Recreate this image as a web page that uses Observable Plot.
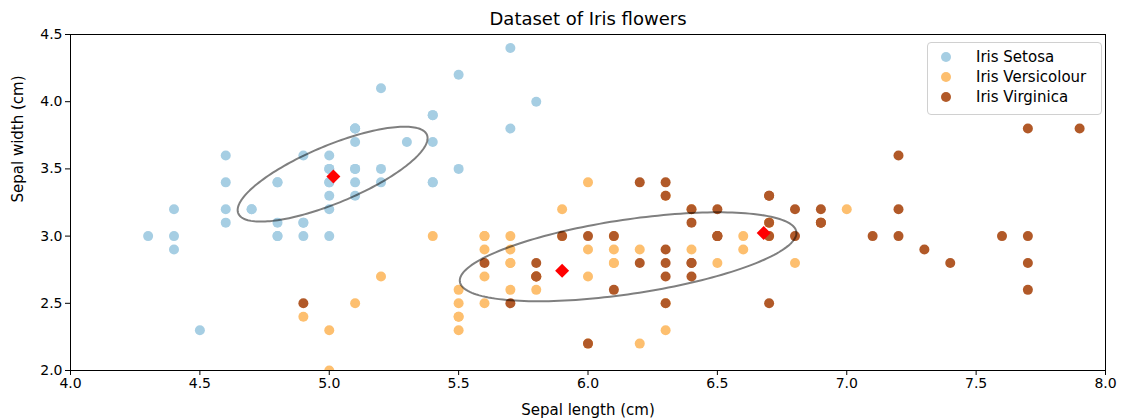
<!DOCTYPE html>
<html>
<head>
<meta charset="utf-8">
<script src="https://cdn.jsdelivr.net/npm/d3@7"></script>
<script src="https://cdn.jsdelivr.net/npm/@observablehq/plot@0.6"></script>
<style>
  html, body { margin: 0; padding: 0; background: #fff; }
  #wrap { position: relative; width: 1122px; height: 420px; font-family: "DejaVu Sans", sans-serif; }
  #legend { position: absolute; left: 927px; top: 42px; width: 175px; height: 73px;
    border: 1px solid #d0d0d0; border-radius: 4px; background: rgba(255,255,255,0.85); box-sizing: border-box; }
  .row { position: absolute; left: 0; height: 20px; line-height: 20px; font-size: 15px; color: #000; white-space: nowrap; }
  .sw { position: absolute; left: 13px; top: 5px; width: 10px; height: 10px; border-radius: 50%; }
  .lb { position: absolute; left: 48px; top: 0; }
</style>
</head>
<body>
<div id="wrap"><div id="legend"></div></div>
<script>
// ---- Data (sepal length, sepal width) ----
const classes = ["Iris Setosa", "Iris Versicolour", "Iris Virginica"];
const colors = ["#a6cee3", "#fdbf6f", "#b15928"];

const setosaLength = [5.1,4.9,4.7,4.6,5.0,5.4,4.6,5.0,4.4,4.9,5.4,4.8,4.8,4.3,5.8,5.7,5.4,5.1,5.7,5.1,5.4,5.1,4.6,5.1,4.8,5.0,5.0,5.2,5.2,4.7,4.8,5.4,5.2,5.5,4.9,5.0,5.5,4.9,4.4,5.1,5.0,4.5,4.4,5.0,5.1,4.8,5.1,4.6,5.3,5.0];
const setosaWidth  = [3.5,3.0,3.2,3.1,3.6,3.9,3.4,3.4,2.9,3.1,3.7,3.4,3.0,3.0,4.0,4.4,3.9,3.5,3.8,3.8,3.4,3.7,3.6,3.3,3.4,3.0,3.4,3.5,3.4,3.2,3.1,3.4,4.1,4.2,3.1,3.2,3.5,3.6,3.0,3.4,3.5,2.3,3.2,3.5,3.8,3.0,3.8,3.2,3.7,3.3];

const versicolourLength = [7.0,6.4,6.9,5.5,6.5,5.7,6.3,4.9,6.6,5.2,5.0,5.9,6.0,6.1,5.6,6.7,5.6,5.8,6.2,5.6,5.9,6.1,6.3,6.1,6.4,6.6,6.8,6.7,6.0,5.7,5.5,5.5,5.8,6.0,5.4,6.0,6.7,6.3,5.6,5.5,5.5,6.1,5.8,5.0,5.6,5.7,5.7,6.2,5.1,5.7];
const versicolourWidth  = [3.2,3.2,3.1,2.3,2.8,2.8,3.3,2.4,2.9,2.7,2.0,3.0,2.2,2.9,2.9,3.1,3.0,2.7,2.2,2.5,3.2,2.8,2.5,2.8,2.9,3.0,2.8,3.0,2.9,2.6,2.4,2.4,2.7,2.7,3.0,3.4,3.1,2.3,3.0,2.5,2.6,3.0,2.6,2.3,2.7,3.0,2.9,2.9,2.5,2.8];

const virginicaLength = [6.3,5.8,7.1,6.3,6.5,7.6,4.9,7.3,6.7,7.2,6.5,6.4,6.8,5.7,5.8,6.4,6.5,7.7,7.7,6.0,6.9,5.6,7.7,6.3,6.7,7.2,6.2,6.1,6.4,7.2,7.4,7.9,6.4,6.3,6.1,7.7,6.3,6.4,6.0,6.9,6.7,6.9,5.8,6.8,6.7,6.7,6.3,6.5,6.2,5.9];
const virginicaWidth  = [3.3,2.7,3.0,2.9,3.0,3.0,2.5,2.9,2.5,3.6,3.2,2.7,3.0,2.5,2.8,3.2,3.0,3.8,2.6,2.2,3.2,2.8,2.8,2.7,3.3,3.2,2.8,3.0,2.8,3.0,2.8,3.8,2.8,2.8,2.6,3.0,3.4,3.1,3.0,3.1,3.1,3.1,2.7,3.2,3.3,3.0,2.5,3.0,3.4,3.0];

// Cluster centres (red diamonds)
const centerX = [5.016, 5.900, 6.679];
const centerY = [3.443, 2.743, 3.023];

// Ellipses: centre and two half-axis vectors (data units)
const ellipseCx = [5.013, 6.155];
const ellipseCy = [3.461, 2.846];
const ellipseMajorDx = [0.3645, 0.6502];
const ellipseMajorDy = [0.2926, 0.1859];
const ellipseMinorDx = [-0.0429, -0.0211];
const ellipseMinorDy = [0.1976, 0.2736];

// Ticks
const xTicks = [4.0, 4.5, 5.0, 5.5, 6.0, 6.5, 7.0, 7.5, 8.0];
const yTicks = [2.0, 2.5, 3.0, 3.5, 4.0, 4.5];

// ---- Build tables ----
const lengths = [setosaLength, versicolourLength, virginicaLength];
const widths = [setosaWidth, versicolourWidth, virginicaWidth];
const points = [];
classes.forEach((c, k) => lengths[k].forEach((v, i) => points.push({cls: c, x: v, y: widths[k][i]})));

const centers = centerX.map((x, i) => ({x, y: centerY[i]}));

const ellipsePts = [];
ellipseCx.forEach((cx, e) => {
  const n = 180;
  for (let i = 0; i <= n; i++) {
    const t = 2 * Math.PI * i / n;
    ellipsePts.push({
      e,
      x: cx + ellipseMajorDx[e] * Math.cos(t) + ellipseMinorDx[e] * Math.sin(t),
      y: ellipseCy[e] + ellipseMajorDy[e] * Math.cos(t) + ellipseMinorDy[e] * Math.sin(t)
    });
  }
});

const fmt = d3.format(".1f");

const chart = Plot.plot({
  width: 1122,
  height: 420,
  marginLeft: 70,
  marginRight: 17,
  marginTop: 34,
  marginBottom: 50,
  style: {fontFamily: "DejaVu Sans, sans-serif", fontSize: "14px", color: "#000", background: "#fff"},
  x: {domain: [4, 8]},
  y: {domain: [2, 4.5]},
  color: {domain: classes, range: colors},
  marks: [
    Plot.dot(points, {x: "x", y: "y", fill: "cls", r: 5, stroke: "none", clip: true}),
    Plot.line(ellipsePts, {x: "x", y: "y", z: "e", stroke: "black", strokeOpacity: 0.5, strokeWidth: 2}),
    Plot.dot(centers, {x: "x", y: "y", symbol: "diamond2", fill: "red", stroke: "none", r: 6.3}),
    Plot.frame({stroke: "black", strokeWidth: 1}),
    Plot.axisX({ticks: xTicks, tickFormat: fmt, tickSize: 5, tickPadding: 3, label: null, fontSize: 14}),
    Plot.axisY({ticks: yTicks, tickFormat: fmt, tickSize: 5, tickPadding: 3, label: null, fontSize: 14}),
    Plot.text(["Sepal length (cm)"], {frameAnchor: "bottom", dy: 40, lineAnchor: "middle", fontSize: 15}),
    Plot.text(["Sepal width (cm)"], {frameAnchor: "left", dx: -52, rotate: -90, lineAnchor: "middle", fontSize: 15}),
    Plot.text(["Dataset of Iris flowers"], {frameAnchor: "top", dy: -15, lineAnchor: "middle", fontSize: 18})
  ]
});

const wrap = document.getElementById("wrap");
wrap.insertBefore(chart, wrap.firstChild);

const legend = document.getElementById("legend");
classes.forEach((c, i) => {
  const row = document.createElement("div");
  row.className = "row";
  row.style.top = (4 + i * 20) + "px";
  row.style.width = "100%";
  const sw = document.createElement("span");
  sw.className = "sw";
  sw.style.background = colors[i];
  const lb = document.createElement("span");
  lb.className = "lb";
  lb.textContent = c;
  row.appendChild(sw);
  row.appendChild(lb);
  legend.appendChild(row);
});
</script>
</body>
</html>
